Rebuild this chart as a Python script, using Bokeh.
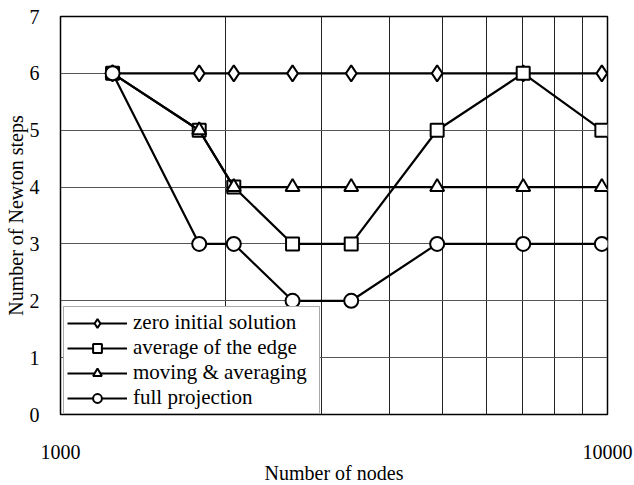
import numpy as np
from bokeh.plotting import figure
from bokeh.models import Range1d, FixedTicker, NumeralTickFormatter, Legend, LegendItem
from bokeh.embed import file_html
from bokeh.resources import INLINE

nodes = [1245, 1793, 2074, 2656, 3400, 4882, 7013, 9765]
zero_initial = [6, 6, 6, 6, 6, 6, 6, 6]
average_edge = [6, 5, 4, 3, 3, 5, 6, 5]
moving_avg = [6, 5, 4, 4, 4, 4, 4, 4]
full_proj = [6, 3, 3, 2, 2, 3, 3, 3]
x_major = [1000, 10000]
x_minor = [2000, 3000, 4000, 5000, 6000, 7000, 8000, 9000]
y_ticks = [0, 1, 2, 3, 4, 5, 6, 7]

FONT = "Liberation Serif"

p = figure(x_axis_type="log", x_range=Range1d(1000, 10000), y_range=Range1d(0, 7),
           frame_width=547, frame_height=398, output_backend="svg", toolbar_location=None,
           min_border_left=60, min_border_top=16, min_border_right=26, min_border_bottom=10)
p.background_fill_color = "white"
p.border_fill_color = "white"
p.outline_line_color = "black"
p.outline_line_width = 1.5

p.xaxis.ticker = FixedTicker(ticks=x_major, minor_ticks=x_minor)
p.yaxis.ticker = FixedTicker(ticks=y_ticks)
p.xaxis.formatter = NumeralTickFormatter(format="0")

for ax in (p.xaxis, p.yaxis):
    ax.axis_line_color = None
    ax.major_tick_line_color = None
    ax.minor_tick_line_color = None
    ax.major_label_text_font = FONT
    ax.major_label_text_font_size = "20px"
    ax.major_label_text_color = "black"
    ax.axis_label_text_font = FONT
    ax.axis_label_text_font_size = "20px"
    ax.axis_label_text_font_style = "normal"
    ax.axis_label_text_color = "black"

p.xaxis.axis_label = "Number of nodes"
p.yaxis.axis_label = "Number of Newton steps"
p.xaxis.major_label_standoff = 24
p.xaxis.axis_label_standoff = 0
p.yaxis.major_label_standoff = 15
p.yaxis.axis_label_standoff = 0

p.xgrid.grid_line_color = None
p.xgrid.minor_grid_line_color = "#222222"
p.xgrid.minor_grid_line_width = 1
p.ygrid.grid_line_color = "#555555"
p.ygrid.grid_line_width = 1

series = [
    ("zero initial solution", zero_initial, "diamond", 16),
    ("average of the edge", average_edge, "square", 13),
    ("moving & averaging", moving_avg, "triangle", 14),
    ("full projection", full_proj, "circle", 14),
]

items = []
for label, ys, marker, size in series:
    ln = p.line(nodes, ys, line_color="black", line_width=2.2)
    sc = p.scatter(nodes, ys, marker=marker, size=size,
                   fill_color="white", line_color="black", line_width=2)
    items.append(LegendItem(label=label, renderers=[ln, sc]))

legend = Legend(items=items, location=(3, 0), margin=0, padding=3, spacing=-3,
                glyph_width=60, glyph_height=22, label_height=22, label_standoff=6,
                label_width=183,
                label_text_font=FONT, label_text_font_size="21px", label_text_color="black",
                border_line_color="#555555", border_line_width=1.5,
                background_fill_color="white", background_fill_alpha=1.0)
p.add_layout(legend, "center")

open("out.html", "w").write(file_html(p, INLINE))
